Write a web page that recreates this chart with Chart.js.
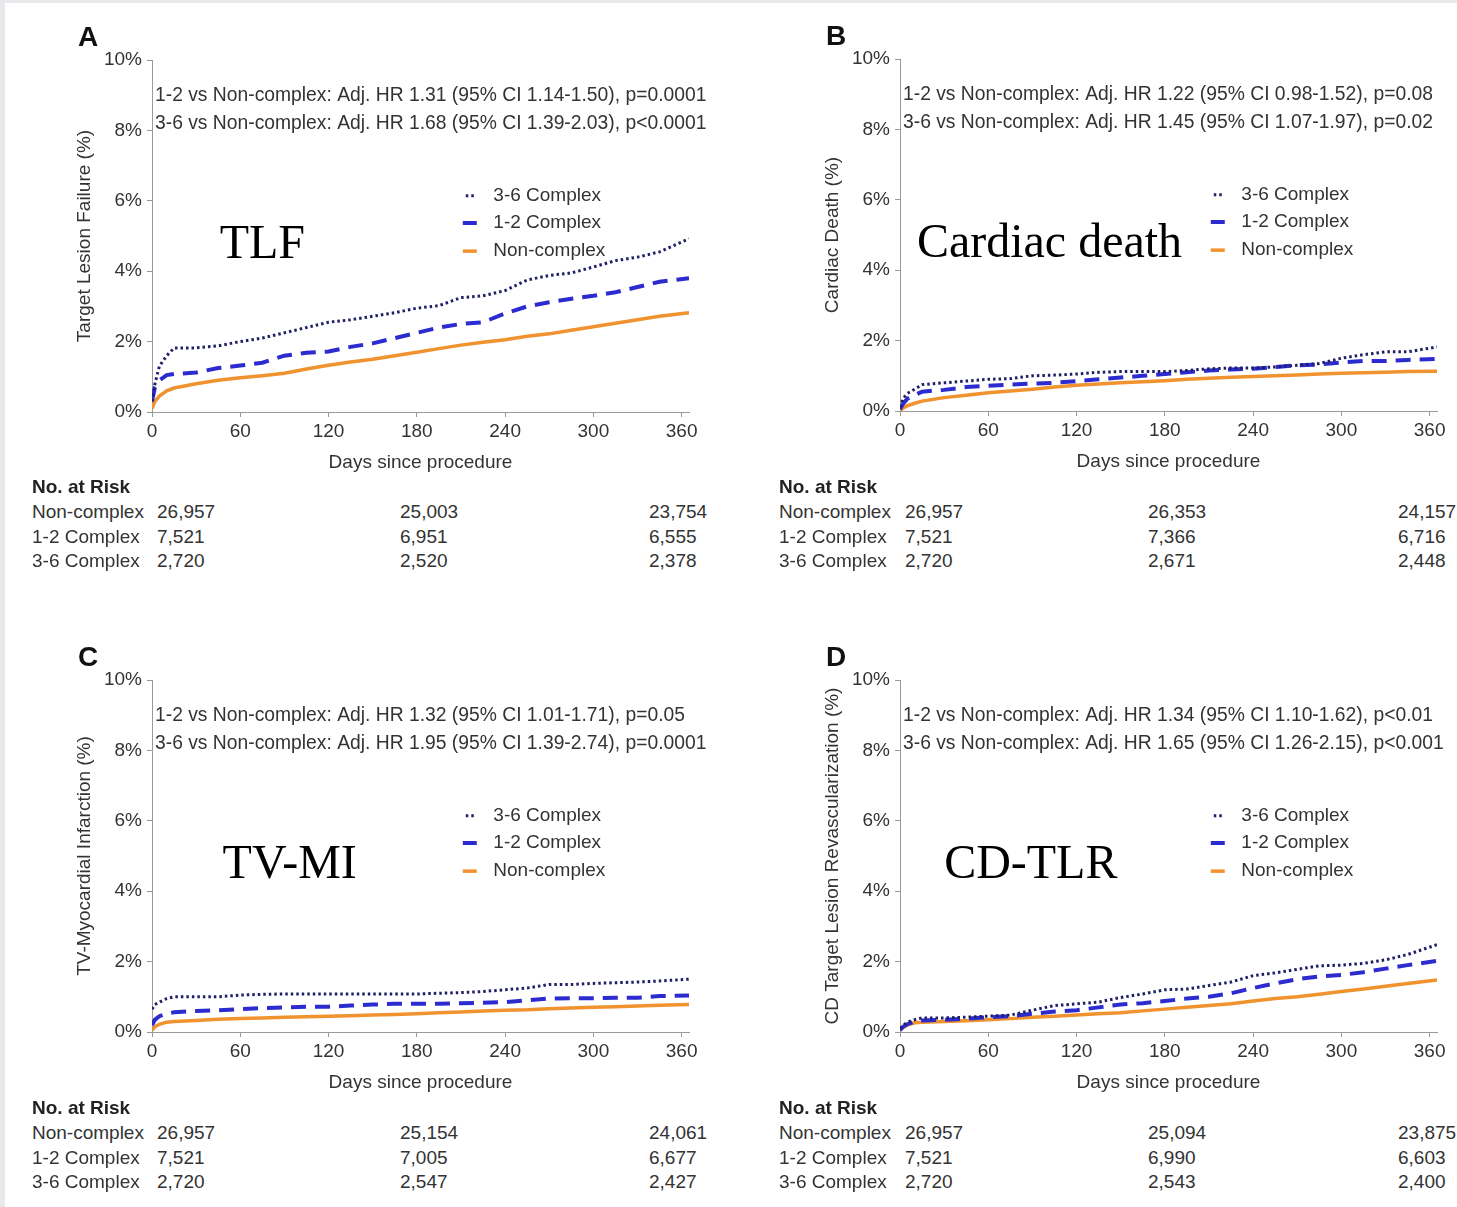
<!DOCTYPE html>
<html>
<head>
<meta charset="utf-8">
<script src="https://cdn.jsdelivr.net/npm/chart.js@4.4.0/dist/chart.umd.min.js"></script>
<style>
html, body { margin: 0; padding: 0; overflow: hidden; }
body { width: 1457px; height: 1207px; background: #e7e9ed; position: relative; font-family: "Liberation Sans", Arial, sans-serif; }
#page { position: absolute; left: 5px; top: 3px; right: 0; bottom: 0; background: #fff; }
canvas { position: absolute; }
.risk { position: absolute; font-size: 19px; line-height: 24px; color: #333; white-space: nowrap; }
.risk.head { font-weight: bold; color: #222; }
</style>
</head>
<body>
<div id="page"></div>
<script>
// ---- data ----
const days = [0, 2, 5, 10, 15, 30, 45, 60, 75, 90, 105, 120, 135, 150, 165, 180, 195, 210, 225, 240, 255, 270, 285, 300, 315, 330, 345, 365];
const dayTicks = [0, 60, 120, 180, 240, 300, 360];
const pctTicks = [0, 2, 4, 6, 8, 10];
const seriesNames = ['3-6 Complex', '1-2 Complex', 'Non-complex'];
const riskRowNames = ['Non-complex', '1-2 Complex', '3-6 Complex'];

// A: Target lesion failure
const tlf36 = [0.3, 0.8, 1.3, 1.6, 1.82, 1.82, 1.88, 2.0, 2.1, 2.25, 2.4, 2.55, 2.62, 2.72, 2.82, 2.95, 3.02, 3.25, 3.3, 3.45, 3.75, 3.88, 3.95, 4.12, 4.3, 4.4, 4.55, 4.92];
const tlf12 = [0.3, 0.7, 0.9, 1.05, 1.08, 1.12, 1.25, 1.32, 1.4, 1.6, 1.68, 1.72, 1.85, 1.95, 2.1, 2.25, 2.4, 2.5, 2.55, 2.8, 3.0, 3.12, 3.22, 3.3, 3.4, 3.55, 3.7, 3.8];
const tlfNon = [0.1, 0.3, 0.45, 0.6, 0.68, 0.8, 0.9, 0.97, 1.03, 1.1, 1.22, 1.33, 1.42, 1.5, 1.6, 1.7, 1.8, 1.9, 1.98, 2.05, 2.15, 2.22, 2.32, 2.42, 2.52, 2.62, 2.72, 2.82];
// B: Cardiac death
const cd36 = [0.1, 0.35, 0.5, 0.62, 0.75, 0.8, 0.85, 0.9, 0.92, 1.0, 1.02, 1.05, 1.1, 1.12, 1.12, 1.12, 1.15, 1.2, 1.22, 1.22, 1.25, 1.3, 1.35, 1.5, 1.6, 1.68, 1.68, 1.82];
const cd12 = [0.05, 0.2, 0.35, 0.45, 0.55, 0.6, 0.68, 0.72, 0.75, 0.78, 0.8, 0.85, 0.9, 0.95, 1.0, 1.05, 1.1, 1.15, 1.18, 1.2, 1.25, 1.3, 1.32, 1.38, 1.42, 1.42, 1.45, 1.48];
const cdNon = [0, 0.08, 0.15, 0.22, 0.28, 0.38, 0.45, 0.52, 0.57, 0.62, 0.68, 0.73, 0.77, 0.8, 0.83, 0.86, 0.9, 0.93, 0.96, 0.98, 1.0, 1.02, 1.05, 1.07, 1.09, 1.1, 1.12, 1.13];
// C: TV-MI
const mi36 = [0.65, 0.78, 0.85, 0.95, 1.0, 1.0, 1.0, 1.05, 1.07, 1.08, 1.08, 1.08, 1.08, 1.08, 1.08, 1.08, 1.1, 1.12, 1.15, 1.2, 1.25, 1.35, 1.35, 1.38, 1.4, 1.42, 1.45, 1.5];
const mi12 = [0.2, 0.35, 0.45, 0.52, 0.56, 0.6, 0.62, 0.65, 0.68, 0.7, 0.72, 0.72, 0.75, 0.78, 0.8, 0.8, 0.8, 0.82, 0.83, 0.85, 0.9, 0.95, 0.96, 0.96, 0.97, 0.97, 1.02, 1.04];
const miNon = [0.05, 0.15, 0.22, 0.28, 0.3, 0.33, 0.36, 0.38, 0.4, 0.42, 0.43, 0.45, 0.46, 0.48, 0.5, 0.52, 0.55, 0.57, 0.6, 0.62, 0.63, 0.66, 0.68, 0.7, 0.72, 0.74, 0.76, 0.78];
// D: CD-TLR
const tlr36 = [0.1, 0.18, 0.28, 0.35, 0.4, 0.4, 0.42, 0.45, 0.48, 0.62, 0.75, 0.8, 0.85, 0.98, 1.08, 1.2, 1.22, 1.32, 1.42, 1.6, 1.68, 1.78, 1.88, 1.9, 1.95, 2.05, 2.2, 2.48];
const tlr12 = [0.05, 0.15, 0.22, 0.3, 0.33, 0.35, 0.38, 0.42, 0.45, 0.52, 0.58, 0.62, 0.7, 0.78, 0.82, 0.88, 0.95, 1.0, 1.1, 1.25, 1.38, 1.5, 1.58, 1.62, 1.7, 1.8, 1.9, 2.02];
const tlrNon = [0.05, 0.12, 0.2, 0.26, 0.28, 0.3, 0.32, 0.35, 0.38, 0.42, 0.45, 0.48, 0.52, 0.55, 0.6, 0.65, 0.7, 0.75, 0.8, 0.88, 0.95, 1.0, 1.07, 1.15, 1.22, 1.3, 1.38, 1.48];

// number at risk (rows: non-complex, 1-2, 3-6; columns: day 0, 180, 360)
const riskA = [[26957, 25003, 23754], [7521, 6951, 6555], [2720, 2520, 2378]];
const riskB = [[26957, 26353, 24157], [7521, 7366, 6716], [2720, 2671, 2448]];
const riskC = [[26957, 25154, 24061], [7521, 7005, 6677], [2720, 2547, 2427]];
const riskD = [[26957, 25094, 23875], [7521, 6990, 6603], [2720, 2543, 2400]];

const hrA = ['1-2 vs Non-complex: Adj. HR 1.31 (95% CI 1.14-1.50), p=0.0001', '3-6 vs Non-complex: Adj. HR 1.68 (95% CI 1.39-2.03), p<0.0001'];
const hrB = ['1-2 vs Non-complex: Adj. HR 1.22 (95% CI 0.98-1.52), p=0.08', '3-6 vs Non-complex: Adj. HR 1.45 (95% CI 1.07-1.97), p=0.02'];
const hrC = ['1-2 vs Non-complex: Adj. HR 1.32 (95% CI 1.01-1.71), p=0.05', '3-6 vs Non-complex: Adj. HR 1.95 (95% CI 1.39-2.74), p=0.0001'];
const hrD = ['1-2 vs Non-complex: Adj. HR 1.34 (95% CI 1.10-1.62), p<0.01', '3-6 vs Non-complex: Adj. HR 1.65 (95% CI 1.26-2.15), p<0.001'];

// ---- styling ----
const FONT = '"Liberation Sans", Arial, sans-serif';
const SERIF = '"Liberation Serif", "Times New Roman", serif';
const TXT = '#333';
const AXIS = '#9a9a9a';
const styles = [
  { color: '#1f1f66', width: 3, dash: [2.5, 3] },
  { color: '#2b2bd0', width: 4, dash: [15, 9] },
  { color: '#f0922e', width: 3.5, dash: [] }
];

const panels = [
  { letter: 'A', big: 'TLF', bigDay: 46, ytitle: 'Target Lesion Failure (%)', hr: hrA, risk: riskA, series: [tlf36, tlf12, tlfNon], left: 20, top: 10, w: 720, padR: 51, riskX: [32, 157, 400, 649], riskY: 487 },
  { letter: 'B', big: 'Cardiac death', bigDay: 11.5, ytitle: 'Cardiac Death (%)', hr: hrB, risk: riskB, series: [cd36, cd12, cdNon], left: 768, top: 9, w: 689, padR: 20, riskX: [779, 905, 1148, 1398], riskY: 487 },
  { letter: 'C', big: 'TV-MI', bigDay: 48, ytitle: 'TV-Myocardial Infarction (%)', hr: hrC, risk: riskC, series: [mi36, mi12, miNon], left: 20, top: 630, w: 720, padR: 51, riskX: [32, 157, 400, 649], riskY: 1108 },
  { letter: 'D', big: 'CD-TLR', bigDay: 30, ytitle: 'CD Target Lesion Revascularization (%)', hr: hrD, risk: riskD, series: [tlr36, tlr12, tlrNon], left: 768, top: 630, w: 689, padR: 20, riskX: [779, 905, 1148, 1398], riskY: 1108 }
];

// annotations drawn with the chart's own scales
const annotate = {
  id: 'annotate',
  afterDraw(chart) {
    const p = chart.options.plugins.annotate.panel;
    const ctx = chart.ctx, xs = chart.scales.x, ys = chart.scales.y, a = chart.chartArea;
    ctx.save();
    ctx.textBaseline = 'middle';
    // panel letter
    ctx.fillStyle = '#111';
    ctx.font = 'bold 28px ' + FONT;
    ctx.textAlign = 'center';
    ctx.fillText(p.letter, a.left - 64, a.top - 22);
    // hazard ratios
    ctx.fillStyle = TXT;
    ctx.font = '19.3px ' + FONT;
    ctx.textAlign = 'left';
    ctx.fillText(p.hr[0], a.left + 3, ys.getPixelForValue(9.0));
    ctx.fillText(p.hr[1], a.left + 3, ys.getPixelForValue(8.2));
    // legend
    ctx.font = '19px ' + FONT;
    const legY = [6.14, 5.37, 4.57];
    const mx = xs.getPixelForValue(216), lx = xs.getPixelForValue(232);
    seriesNames.forEach((name, i) => {
      const y = ys.getPixelForValue(legY[i]);
      const st = styles[i];
      ctx.beginPath();
      ctx.strokeStyle = st.color;
      ctx.lineWidth = st.width;
      ctx.setLineDash(i === 0 ? [2.5, 3] : []);
      ctx.moveTo(mx - (i === 0 ? 4 : 7), y);
      ctx.lineTo(mx + (i === 0 ? 4 : 7), y);
      ctx.stroke();
      ctx.setLineDash([]);
      ctx.fillStyle = TXT;
      ctx.fillText(name, lx, y);
    });
    // big outcome label
    ctx.fillStyle = '#000';
    ctx.font = '48px ' + SERIF;
    ctx.fillText(p.big, xs.getPixelForValue(p.bigDay), ys.getPixelForValue(4.74));
    ctx.restore();
  }
};

panels.forEach(p => {
  const cv = document.createElement('canvas');
  cv.width = p.w;
  cv.height = 475;
  cv.style.left = p.left + 'px';
  cv.style.top = p.top + 'px';
  document.body.appendChild(cv);

  const datasets = p.series.map((vals, i) => ({
    label: seriesNames[i],
    data: days.map((d, k) => ({ x: d, y: vals[k] })),
    borderColor: styles[i].color,
    borderWidth: styles[i].width,
    borderDash: styles[i].dash,
    pointRadius: 0,
    tension: 0,
    fill: false
  }));

  new Chart(cv, {
    type: 'line',
    data: { datasets },
    plugins: [annotate],
    options: {
      responsive: false,
      animation: false,
      layout: { padding: { top: 50, right: p.padR, left: 0, bottom: 0 } },
      plugins: { legend: { display: false }, tooltip: { enabled: false }, annotate: { panel: p } },
      scales: {
        x: {
          type: 'linear', min: 0, max: 365,
          afterBuildTicks: s => { s.ticks = dayTicks.map(v => ({ value: v })); },
          afterFit: s => { s.height = 73; },
          grid: { drawOnChartArea: false, drawTicks: true, tickLength: 5, color: AXIS },
          border: { color: AXIS },
          ticks: { color: TXT, font: { size: 19, family: FONT }, padding: 3, maxRotation: 0, autoSkip: false },
          title: { display: true, text: 'Days since procedure', color: TXT, font: { size: 19, family: FONT }, padding: { top: 0, bottom: 11 } }
        },
        y: {
          min: 0, max: 10,
          afterBuildTicks: s => { s.ticks = pctTicks.map(v => ({ value: v })); },
          afterFit: s => { s.width = 132; },
          grid: { drawOnChartArea: false, drawTicks: true, tickLength: 5, color: AXIS },
          border: { color: AXIS },
          ticks: { color: TXT, font: { size: 19, family: FONT }, padding: 5, callback: v => v + '%' },
          title: { display: true, text: p.ytitle, color: TXT, font: { size: 19, family: FONT }, padding: { top: 53, bottom: 0 } }
        }
      }
    }
  });

  // number-at-risk table
  const put = (txt, x, y, cls) => {
    const el = document.createElement('div');
    el.className = 'risk' + (cls ? ' ' + cls : '');
    el.textContent = txt;
    el.style.left = x + 'px';
    el.style.top = (y - 12) + 'px';
    document.body.appendChild(el);
  };
  put('No. at Risk', p.riskX[0], p.riskY, 'head');
  riskRowNames.forEach((name, r) => {
    const y = p.riskY + 25 + r * 24.5;
    put(name, p.riskX[0], y);
    p.risk[r].forEach((n, c) => put(n.toLocaleString('en-US'), p.riskX[c + 1], y));
  });
});
</script>
</body>
</html>
